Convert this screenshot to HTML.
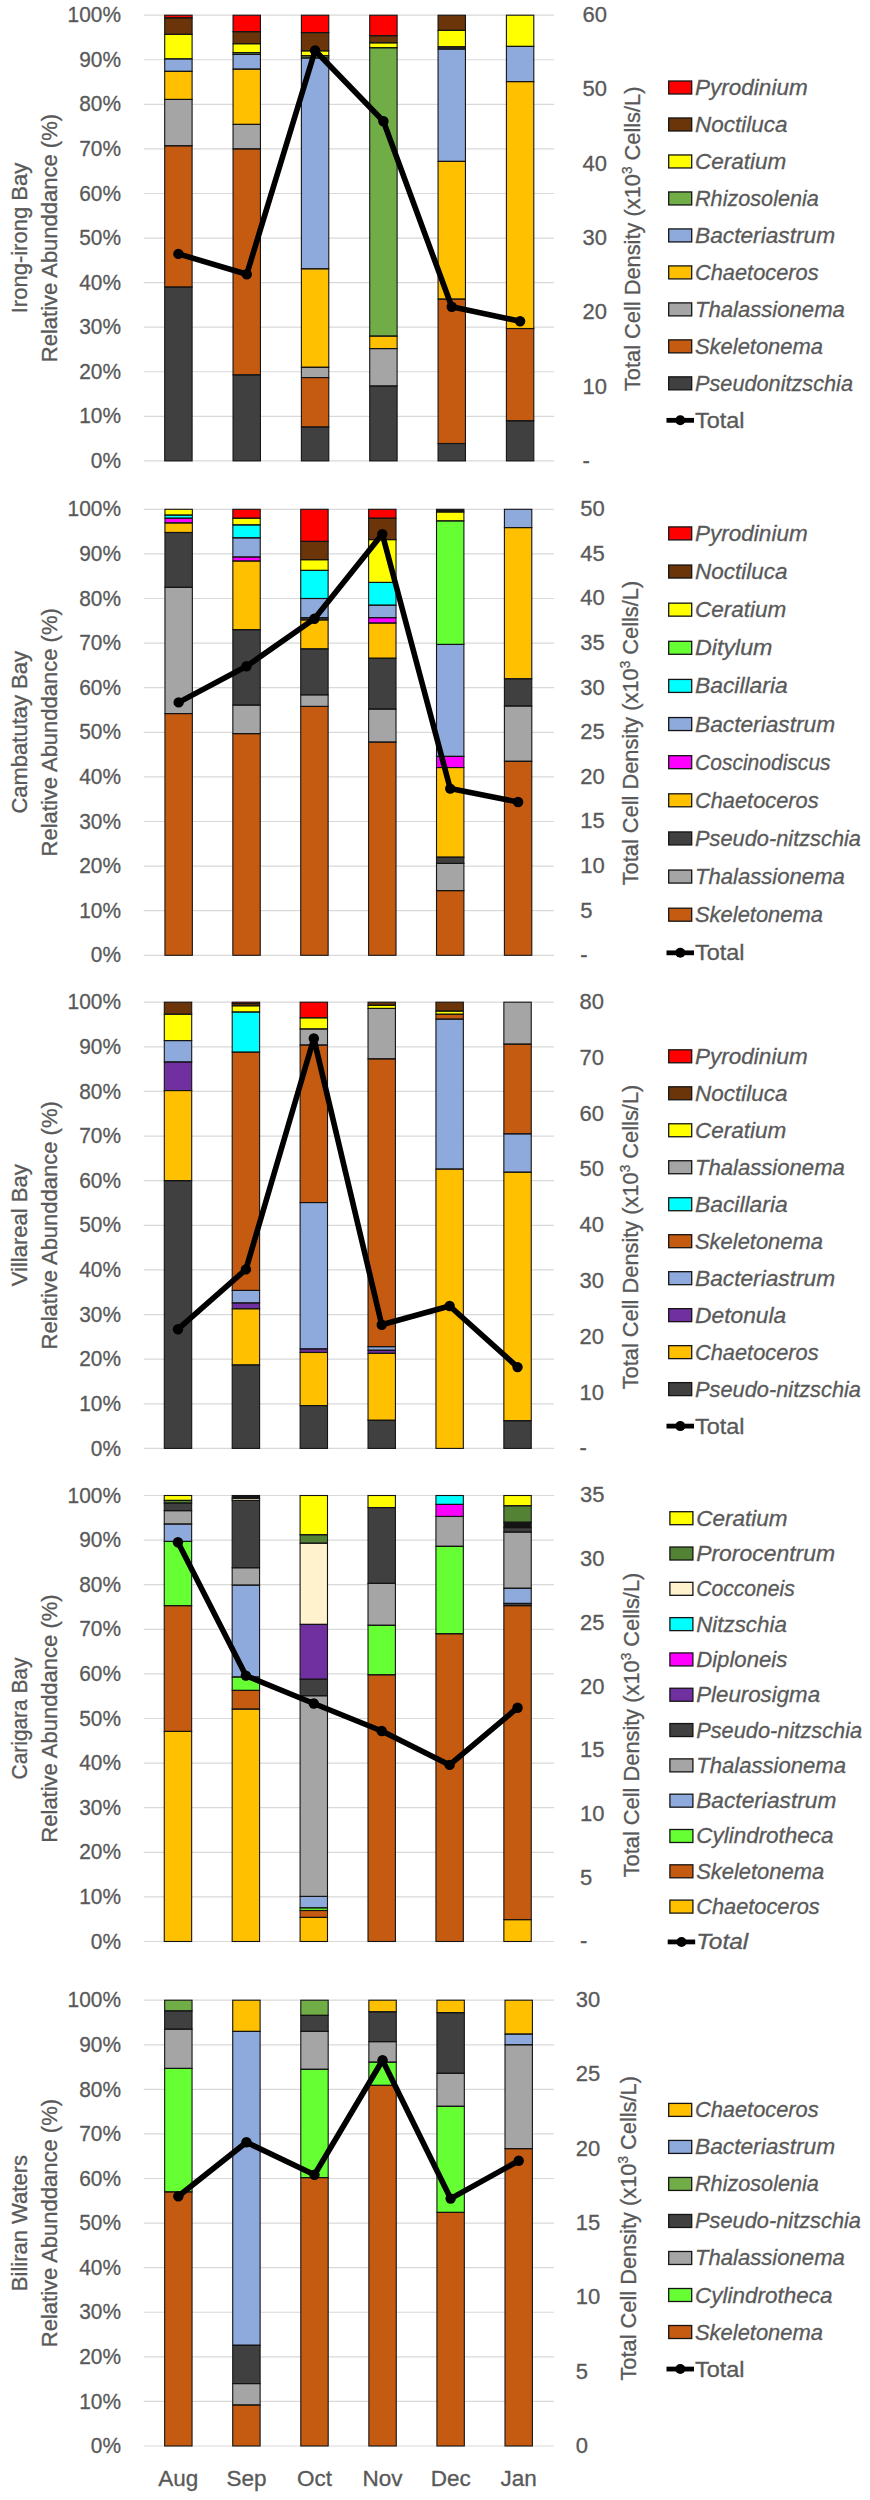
<!DOCTYPE html><html><head><meta charset="utf-8"><style>
html,body{margin:0;padding:0;background:#fff;width:870px;height:2500px;overflow:hidden}
svg{display:block}
text{font-family:"Liberation Sans", sans-serif;fill:#595959;stroke:#595959;stroke-width:0.3px}
.t{font-size:22px}.lg{font-size:22.5px;font-style:italic}.lgn{font-size:22.5px}
.ti{font-size:22px}.rt{font-size:22.5px}.xl{font-size:22.5px}
</style></head><body>
<svg width="870" height="2500" viewBox="0 0 870 2500">
<line x1="143.7" y1="15.2" x2="554" y2="15.2" stroke="#D9D9D9" stroke-width="1.2"/>
<line x1="143.7" y1="59.77" x2="554" y2="59.77" stroke="#D9D9D9" stroke-width="1.2"/>
<line x1="143.7" y1="104.34" x2="554" y2="104.34" stroke="#D9D9D9" stroke-width="1.2"/>
<line x1="143.7" y1="148.91" x2="554" y2="148.91" stroke="#D9D9D9" stroke-width="1.2"/>
<line x1="143.7" y1="193.48" x2="554" y2="193.48" stroke="#D9D9D9" stroke-width="1.2"/>
<line x1="143.7" y1="238.05" x2="554" y2="238.05" stroke="#D9D9D9" stroke-width="1.2"/>
<line x1="143.7" y1="282.62" x2="554" y2="282.62" stroke="#D9D9D9" stroke-width="1.2"/>
<line x1="143.7" y1="327.19" x2="554" y2="327.19" stroke="#D9D9D9" stroke-width="1.2"/>
<line x1="143.7" y1="371.76" x2="554" y2="371.76" stroke="#D9D9D9" stroke-width="1.2"/>
<line x1="143.7" y1="416.33" x2="554" y2="416.33" stroke="#D9D9D9" stroke-width="1.2"/>
<line x1="143.7" y1="460.9" x2="554" y2="460.9" stroke="#D9D9D9" stroke-width="1.2"/>
<text class="t" transform="translate(121,22.35) scale(0.95,1.0)" text-anchor="end">100%</text>
<text class="t" transform="translate(121,66.92) scale(0.95,1.0)" text-anchor="end">90%</text>
<text class="t" transform="translate(121,111.49) scale(0.95,1.0)" text-anchor="end">80%</text>
<text class="t" transform="translate(121,156.06) scale(0.95,1.0)" text-anchor="end">70%</text>
<text class="t" transform="translate(121,200.63) scale(0.95,1.0)" text-anchor="end">60%</text>
<text class="t" transform="translate(121,245.2) scale(0.95,1.0)" text-anchor="end">50%</text>
<text class="t" transform="translate(121,289.77) scale(0.95,1.0)" text-anchor="end">40%</text>
<text class="t" transform="translate(121,334.34) scale(0.95,1.0)" text-anchor="end">30%</text>
<text class="t" transform="translate(121,378.91) scale(0.95,1.0)" text-anchor="end">20%</text>
<text class="t" transform="translate(121,423.48) scale(0.95,1.0)" text-anchor="end">10%</text>
<text class="t" transform="translate(121,468.05) scale(0.95,1.0)" text-anchor="end">0%</text>
<text class="t" transform="translate(582.5,22.1) scale(1.0,1.0)">60</text>
<text class="t" transform="translate(582.5,96.38) scale(1.0,1.0)">50</text>
<text class="t" transform="translate(582.5,170.67) scale(1.0,1.0)">40</text>
<text class="t" transform="translate(582.5,244.95) scale(1.0,1.0)">30</text>
<text class="t" transform="translate(582.5,319.23) scale(1.0,1.0)">20</text>
<text class="t" transform="translate(582.5,393.52) scale(1.0,1.0)">10</text>
<text class="t" transform="translate(582.5,467.8) scale(1.0,1.0)">-</text>
<rect x="164.7" y="15.2" width="27.4" height="2.67" fill="#FF0000"/>
<rect x="164.7" y="17.87" width="27.4" height="16.49" fill="#6B3509"/>
<rect x="164.7" y="34.37" width="27.4" height="24.51" fill="#FFFF00"/>
<rect x="164.7" y="58.88" width="27.4" height="12.48" fill="#8EA9DB"/>
<rect x="164.7" y="71.36" width="27.4" height="28.08" fill="#FFC000"/>
<rect x="164.7" y="99.44" width="27.4" height="46.35" fill="#A5A5A5"/>
<rect x="164.7" y="145.79" width="27.4" height="141.29" fill="#C55A11"/>
<rect x="164.7" y="287.08" width="27.4" height="173.82" fill="#404040"/>
<rect x="164.7" y="15.2" width="27.4" height="2.67" fill="none" stroke="#141414" stroke-width="1.1"/>
<rect x="164.7" y="17.87" width="27.4" height="16.49" fill="none" stroke="#141414" stroke-width="1.1"/>
<rect x="164.7" y="34.37" width="27.4" height="24.51" fill="none" stroke="#141414" stroke-width="1.1"/>
<rect x="164.7" y="58.88" width="27.4" height="12.48" fill="none" stroke="#141414" stroke-width="1.1"/>
<rect x="164.7" y="71.36" width="27.4" height="28.08" fill="none" stroke="#141414" stroke-width="1.1"/>
<rect x="164.7" y="99.44" width="27.4" height="46.35" fill="none" stroke="#141414" stroke-width="1.1"/>
<rect x="164.7" y="145.79" width="27.4" height="141.29" fill="none" stroke="#141414" stroke-width="1.1"/>
<rect x="164.7" y="287.08" width="27.4" height="173.82" fill="none" stroke="#141414" stroke-width="1.1"/>
<rect x="233.04" y="15.2" width="27.4" height="16.49" fill="#FF0000"/>
<rect x="233.04" y="31.69" width="27.4" height="12.03" fill="#6B3509"/>
<rect x="233.04" y="43.72" width="27.4" height="8.91" fill="#FFFF00"/>
<rect x="233.04" y="52.64" width="27.4" height="1.78" fill="#70AD47"/>
<rect x="233.04" y="54.42" width="27.4" height="14.71" fill="#8EA9DB"/>
<rect x="233.04" y="69.13" width="27.4" height="55.27" fill="#FFC000"/>
<rect x="233.04" y="124.4" width="27.4" height="24.51" fill="#A5A5A5"/>
<rect x="233.04" y="148.91" width="27.4" height="225.97" fill="#C55A11"/>
<rect x="233.04" y="374.88" width="27.4" height="86.02" fill="#404040"/>
<rect x="233.04" y="15.2" width="27.4" height="16.49" fill="none" stroke="#141414" stroke-width="1.1"/>
<rect x="233.04" y="31.69" width="27.4" height="12.03" fill="none" stroke="#141414" stroke-width="1.1"/>
<rect x="233.04" y="43.72" width="27.4" height="8.91" fill="none" stroke="#141414" stroke-width="1.1"/>
<rect x="233.04" y="52.64" width="27.4" height="1.78" fill="none" stroke="#141414" stroke-width="1.1"/>
<rect x="233.04" y="54.42" width="27.4" height="14.71" fill="none" stroke="#141414" stroke-width="1.1"/>
<rect x="233.04" y="69.13" width="27.4" height="55.27" fill="none" stroke="#141414" stroke-width="1.1"/>
<rect x="233.04" y="124.4" width="27.4" height="24.51" fill="none" stroke="#141414" stroke-width="1.1"/>
<rect x="233.04" y="148.91" width="27.4" height="225.97" fill="none" stroke="#141414" stroke-width="1.1"/>
<rect x="233.04" y="374.88" width="27.4" height="86.02" fill="none" stroke="#141414" stroke-width="1.1"/>
<rect x="301.38" y="15.2" width="27.4" height="17.38" fill="#FF0000"/>
<rect x="301.38" y="32.58" width="27.4" height="18.27" fill="#6B3509"/>
<rect x="301.38" y="50.86" width="27.4" height="4.9" fill="#FFFF00"/>
<rect x="301.38" y="55.76" width="27.4" height="2.23" fill="#70AD47"/>
<rect x="301.38" y="57.99" width="27.4" height="210.82" fill="#8EA9DB"/>
<rect x="301.38" y="268.8" width="27.4" height="98.5" fill="#FFC000"/>
<rect x="301.38" y="367.3" width="27.4" height="10.25" fill="#A5A5A5"/>
<rect x="301.38" y="377.55" width="27.4" height="49.47" fill="#C55A11"/>
<rect x="301.38" y="427.03" width="27.4" height="33.87" fill="#404040"/>
<rect x="301.38" y="15.2" width="27.4" height="17.38" fill="none" stroke="#141414" stroke-width="1.1"/>
<rect x="301.38" y="32.58" width="27.4" height="18.27" fill="none" stroke="#141414" stroke-width="1.1"/>
<rect x="301.38" y="50.86" width="27.4" height="4.9" fill="none" stroke="#141414" stroke-width="1.1"/>
<rect x="301.38" y="55.76" width="27.4" height="2.23" fill="none" stroke="#141414" stroke-width="1.1"/>
<rect x="301.38" y="57.99" width="27.4" height="210.82" fill="none" stroke="#141414" stroke-width="1.1"/>
<rect x="301.38" y="268.8" width="27.4" height="98.5" fill="none" stroke="#141414" stroke-width="1.1"/>
<rect x="301.38" y="367.3" width="27.4" height="10.25" fill="none" stroke="#141414" stroke-width="1.1"/>
<rect x="301.38" y="377.55" width="27.4" height="49.47" fill="none" stroke="#141414" stroke-width="1.1"/>
<rect x="301.38" y="427.03" width="27.4" height="33.87" fill="none" stroke="#141414" stroke-width="1.1"/>
<rect x="369.72" y="15.2" width="27.4" height="20.5" fill="#FF0000"/>
<rect x="369.72" y="35.7" width="27.4" height="7.13" fill="#6B3509"/>
<rect x="369.72" y="42.83" width="27.4" height="4.9" fill="#FFFF00"/>
<rect x="369.72" y="47.74" width="27.4" height="288.37" fill="#70AD47"/>
<rect x="369.72" y="336.1" width="27.4" height="12.48" fill="#FFC000"/>
<rect x="369.72" y="348.58" width="27.4" height="37.44" fill="#A5A5A5"/>
<rect x="369.72" y="386.02" width="27.4" height="74.88" fill="#404040"/>
<rect x="369.72" y="15.2" width="27.4" height="20.5" fill="none" stroke="#141414" stroke-width="1.1"/>
<rect x="369.72" y="35.7" width="27.4" height="7.13" fill="none" stroke="#141414" stroke-width="1.1"/>
<rect x="369.72" y="42.83" width="27.4" height="4.9" fill="none" stroke="#141414" stroke-width="1.1"/>
<rect x="369.72" y="47.74" width="27.4" height="288.37" fill="none" stroke="#141414" stroke-width="1.1"/>
<rect x="369.72" y="336.1" width="27.4" height="12.48" fill="none" stroke="#141414" stroke-width="1.1"/>
<rect x="369.72" y="348.58" width="27.4" height="37.44" fill="none" stroke="#141414" stroke-width="1.1"/>
<rect x="369.72" y="386.02" width="27.4" height="74.88" fill="none" stroke="#141414" stroke-width="1.1"/>
<rect x="438.06" y="15.2" width="27.4" height="15.15" fill="#6B3509"/>
<rect x="438.06" y="30.35" width="27.4" height="16.49" fill="#FFFF00"/>
<rect x="438.06" y="46.84" width="27.4" height="2.23" fill="#404040"/>
<rect x="438.06" y="49.07" width="27.4" height="112.32" fill="#8EA9DB"/>
<rect x="438.06" y="161.39" width="27.4" height="137.72" fill="#FFC000"/>
<rect x="438.06" y="299.11" width="27.4" height="144.41" fill="#C55A11"/>
<rect x="438.06" y="443.52" width="27.4" height="17.38" fill="#404040"/>
<rect x="438.06" y="15.2" width="27.4" height="15.15" fill="none" stroke="#141414" stroke-width="1.1"/>
<rect x="438.06" y="30.35" width="27.4" height="16.49" fill="none" stroke="#141414" stroke-width="1.1"/>
<rect x="438.06" y="46.84" width="27.4" height="2.23" fill="none" stroke="#141414" stroke-width="1.1"/>
<rect x="438.06" y="49.07" width="27.4" height="112.32" fill="none" stroke="#141414" stroke-width="1.1"/>
<rect x="438.06" y="161.39" width="27.4" height="137.72" fill="none" stroke="#141414" stroke-width="1.1"/>
<rect x="438.06" y="299.11" width="27.4" height="144.41" fill="none" stroke="#141414" stroke-width="1.1"/>
<rect x="438.06" y="443.52" width="27.4" height="17.38" fill="none" stroke="#141414" stroke-width="1.1"/>
<rect x="506.4" y="15.2" width="27.4" height="31.2" fill="#FFFF00"/>
<rect x="506.4" y="46.4" width="27.4" height="35.21" fill="#8EA9DB"/>
<rect x="506.4" y="81.61" width="27.4" height="246.92" fill="#FFC000"/>
<rect x="506.4" y="328.53" width="27.4" height="92.26" fill="#C55A11"/>
<rect x="506.4" y="420.79" width="27.4" height="40.11" fill="#404040"/>
<rect x="506.4" y="15.2" width="27.4" height="31.2" fill="none" stroke="#141414" stroke-width="1.1"/>
<rect x="506.4" y="46.4" width="27.4" height="35.21" fill="none" stroke="#141414" stroke-width="1.1"/>
<rect x="506.4" y="81.61" width="27.4" height="246.92" fill="none" stroke="#141414" stroke-width="1.1"/>
<rect x="506.4" y="328.53" width="27.4" height="92.26" fill="none" stroke="#141414" stroke-width="1.1"/>
<rect x="506.4" y="420.79" width="27.4" height="40.11" fill="none" stroke="#141414" stroke-width="1.1"/>
<polyline points="178.4,253.9 246.74,274.2 315.08,50.5 383.42,121.3 451.76,306.8 520.1,321.3" fill="none" stroke="#000" stroke-width="5.6" stroke-linejoin="round"/>
<circle cx="178.4" cy="253.9" r="5.2" fill="#000"/>
<circle cx="246.74" cy="274.2" r="5.2" fill="#000"/>
<circle cx="315.08" cy="50.5" r="5.2" fill="#000"/>
<circle cx="383.42" cy="121.3" r="5.2" fill="#000"/>
<circle cx="451.76" cy="306.8" r="5.2" fill="#000"/>
<circle cx="520.1" cy="321.3" r="5.2" fill="#000"/>
<text class="ti" id="tn0" transform="translate(26.5,238.05) rotate(-90)" text-anchor="middle">Irong-irong Bay</text>
<text class="ti" id="tr0" transform="translate(57,238.05) rotate(-90)" text-anchor="middle">Relative Abunddance (%)</text>
<text class="rt" id="rt0" transform="translate(639.8,238.8) rotate(-90) scale(0.97,1)" text-anchor="middle">Total Cell Density (x10<tspan font-size="14" dy="-8">3</tspan><tspan dy="8"> Cells/L)</tspan></text>
<rect x="668.7" y="81" width="23" height="13" fill="#FF0000" stroke="#141414" stroke-width="1.3"/>
<text class="lg" x="695" y="95" textLength="112.7" lengthAdjust="spacingAndGlyphs">Pyrodinium</text>
<rect x="668.7" y="117.98" width="23" height="13" fill="#6B3509" stroke="#141414" stroke-width="1.3"/>
<text class="lg" x="695" y="131.98" textLength="92.47" lengthAdjust="spacingAndGlyphs">Noctiluca</text>
<rect x="668.7" y="154.96" width="23" height="13" fill="#FFFF00" stroke="#141414" stroke-width="1.3"/>
<text class="lg" x="695" y="168.96" textLength="91.36" lengthAdjust="spacingAndGlyphs">Ceratium</text>
<rect x="668.7" y="191.94" width="23" height="13" fill="#70AD47" stroke="#141414" stroke-width="1.3"/>
<text class="lg" x="695" y="205.94" textLength="123.82" lengthAdjust="spacingAndGlyphs">Rhizosolenia</text>
<rect x="668.7" y="228.92" width="23" height="13" fill="#8EA9DB" stroke="#141414" stroke-width="1.3"/>
<text class="lg" x="695" y="242.92" textLength="140.17" lengthAdjust="spacingAndGlyphs">Bacteriastrum</text>
<rect x="668.7" y="265.9" width="23" height="13" fill="#FFC000" stroke="#141414" stroke-width="1.3"/>
<text class="lg" x="695" y="279.9" textLength="123.56" lengthAdjust="spacingAndGlyphs">Chaetoceros</text>
<rect x="668.7" y="302.88" width="23" height="13" fill="#A5A5A5" stroke="#141414" stroke-width="1.3"/>
<text class="lg" x="695" y="316.88" textLength="149.83" lengthAdjust="spacingAndGlyphs">Thalassionema</text>
<rect x="668.7" y="339.86" width="23" height="13" fill="#C55A11" stroke="#141414" stroke-width="1.3"/>
<text class="lg" x="695" y="353.86" textLength="127.95" lengthAdjust="spacingAndGlyphs">Skeletonema</text>
<rect x="668.7" y="376.84" width="23" height="13" fill="#404040" stroke="#141414" stroke-width="1.3"/>
<text class="lg" x="695" y="390.84" textLength="158" lengthAdjust="spacingAndGlyphs">Pseudonitzschia</text>
<line x1="666.5" y1="420.32" x2="694" y2="420.32" stroke="#000" stroke-width="4.8"/>
<circle cx="680.3" cy="420.32" r="5" fill="#000"/>
<text class="lgn" x="695" y="427.82" textLength="49.52" lengthAdjust="spacingAndGlyphs">Total</text>
<line x1="143.7" y1="509.3" x2="554" y2="509.3" stroke="#D9D9D9" stroke-width="1.2"/>
<line x1="143.7" y1="553.9" x2="554" y2="553.9" stroke="#D9D9D9" stroke-width="1.2"/>
<line x1="143.7" y1="598.5" x2="554" y2="598.5" stroke="#D9D9D9" stroke-width="1.2"/>
<line x1="143.7" y1="643.1" x2="554" y2="643.1" stroke="#D9D9D9" stroke-width="1.2"/>
<line x1="143.7" y1="687.7" x2="554" y2="687.7" stroke="#D9D9D9" stroke-width="1.2"/>
<line x1="143.7" y1="732.3" x2="554" y2="732.3" stroke="#D9D9D9" stroke-width="1.2"/>
<line x1="143.7" y1="776.9" x2="554" y2="776.9" stroke="#D9D9D9" stroke-width="1.2"/>
<line x1="143.7" y1="821.5" x2="554" y2="821.5" stroke="#D9D9D9" stroke-width="1.2"/>
<line x1="143.7" y1="866.1" x2="554" y2="866.1" stroke="#D9D9D9" stroke-width="1.2"/>
<line x1="143.7" y1="910.7" x2="554" y2="910.7" stroke="#D9D9D9" stroke-width="1.2"/>
<line x1="143.7" y1="955.3" x2="554" y2="955.3" stroke="#D9D9D9" stroke-width="1.2"/>
<text class="t" transform="translate(121,516.45) scale(0.95,1.0)" text-anchor="end">100%</text>
<text class="t" transform="translate(121,561.05) scale(0.95,1.0)" text-anchor="end">90%</text>
<text class="t" transform="translate(121,605.65) scale(0.95,1.0)" text-anchor="end">80%</text>
<text class="t" transform="translate(121,650.25) scale(0.95,1.0)" text-anchor="end">70%</text>
<text class="t" transform="translate(121,694.85) scale(0.95,1.0)" text-anchor="end">60%</text>
<text class="t" transform="translate(121,739.45) scale(0.95,1.0)" text-anchor="end">50%</text>
<text class="t" transform="translate(121,784.05) scale(0.95,1.0)" text-anchor="end">40%</text>
<text class="t" transform="translate(121,828.65) scale(0.95,1.0)" text-anchor="end">30%</text>
<text class="t" transform="translate(121,873.25) scale(0.95,1.0)" text-anchor="end">20%</text>
<text class="t" transform="translate(121,917.85) scale(0.95,1.0)" text-anchor="end">10%</text>
<text class="t" transform="translate(121,962.45) scale(0.95,1.0)" text-anchor="end">0%</text>
<text class="t" transform="translate(580.3,516.2) scale(1.0,1.0)">50</text>
<text class="t" transform="translate(580.3,560.8) scale(1.0,1.0)">45</text>
<text class="t" transform="translate(580.3,605.4) scale(1.0,1.0)">40</text>
<text class="t" transform="translate(580.3,650) scale(1.0,1.0)">35</text>
<text class="t" transform="translate(580.3,694.6) scale(1.0,1.0)">30</text>
<text class="t" transform="translate(580.3,739.2) scale(1.0,1.0)">25</text>
<text class="t" transform="translate(580.3,783.8) scale(1.0,1.0)">20</text>
<text class="t" transform="translate(580.3,828.4) scale(1.0,1.0)">15</text>
<text class="t" transform="translate(580.3,873) scale(1.0,1.0)">10</text>
<text class="t" transform="translate(580.3,917.6) scale(1.0,1.0)">5</text>
<text class="t" transform="translate(580.3,962.2) scale(1.0,1.0)">-</text>
<rect x="164.95" y="509.3" width="27.4" height="5.8" fill="#FFFF00"/>
<rect x="164.95" y="515.1" width="27.4" height="3.12" fill="#00FFFF"/>
<rect x="164.95" y="518.22" width="27.4" height="4.68" fill="#FF00FF"/>
<rect x="164.95" y="522.9" width="27.4" height="9.59" fill="#FFC000"/>
<rect x="164.95" y="532.49" width="27.4" height="54.86" fill="#404040"/>
<rect x="164.95" y="587.35" width="27.4" height="126.22" fill="#A5A5A5"/>
<rect x="164.95" y="713.57" width="27.4" height="241.73" fill="#C55A11"/>
<rect x="164.95" y="509.3" width="27.4" height="5.8" fill="none" stroke="#141414" stroke-width="1.1"/>
<rect x="164.95" y="515.1" width="27.4" height="3.12" fill="none" stroke="#141414" stroke-width="1.1"/>
<rect x="164.95" y="518.22" width="27.4" height="4.68" fill="none" stroke="#141414" stroke-width="1.1"/>
<rect x="164.95" y="522.9" width="27.4" height="9.59" fill="none" stroke="#141414" stroke-width="1.1"/>
<rect x="164.95" y="532.49" width="27.4" height="54.86" fill="none" stroke="#141414" stroke-width="1.1"/>
<rect x="164.95" y="587.35" width="27.4" height="126.22" fill="none" stroke="#141414" stroke-width="1.1"/>
<rect x="164.95" y="713.57" width="27.4" height="241.73" fill="none" stroke="#141414" stroke-width="1.1"/>
<rect x="232.84" y="509.3" width="27.4" height="8.92" fill="#FF0000"/>
<rect x="232.84" y="518.22" width="27.4" height="6.69" fill="#FFFF00"/>
<rect x="232.84" y="524.91" width="27.4" height="12.93" fill="#00FFFF"/>
<rect x="232.84" y="537.84" width="27.4" height="19.18" fill="#8EA9DB"/>
<rect x="232.84" y="557.02" width="27.4" height="4.01" fill="#FF00FF"/>
<rect x="232.84" y="561.04" width="27.4" height="68.68" fill="#FFC000"/>
<rect x="232.84" y="629.72" width="27.4" height="75.37" fill="#404040"/>
<rect x="232.84" y="705.09" width="27.4" height="28.54" fill="#A5A5A5"/>
<rect x="232.84" y="733.64" width="27.4" height="221.66" fill="#C55A11"/>
<rect x="232.84" y="509.3" width="27.4" height="8.92" fill="none" stroke="#141414" stroke-width="1.1"/>
<rect x="232.84" y="518.22" width="27.4" height="6.69" fill="none" stroke="#141414" stroke-width="1.1"/>
<rect x="232.84" y="524.91" width="27.4" height="12.93" fill="none" stroke="#141414" stroke-width="1.1"/>
<rect x="232.84" y="537.84" width="27.4" height="19.18" fill="none" stroke="#141414" stroke-width="1.1"/>
<rect x="232.84" y="557.02" width="27.4" height="4.01" fill="none" stroke="#141414" stroke-width="1.1"/>
<rect x="232.84" y="561.04" width="27.4" height="68.68" fill="none" stroke="#141414" stroke-width="1.1"/>
<rect x="232.84" y="629.72" width="27.4" height="75.37" fill="none" stroke="#141414" stroke-width="1.1"/>
<rect x="232.84" y="705.09" width="27.4" height="28.54" fill="none" stroke="#141414" stroke-width="1.1"/>
<rect x="232.84" y="733.64" width="27.4" height="221.66" fill="none" stroke="#141414" stroke-width="1.1"/>
<rect x="300.73" y="509.3" width="27.4" height="32.11" fill="#FF0000"/>
<rect x="300.73" y="541.41" width="27.4" height="18.29" fill="#6B3509"/>
<rect x="300.73" y="559.7" width="27.4" height="10.7" fill="#FFFF00"/>
<rect x="300.73" y="570.4" width="27.4" height="28.1" fill="#00FFFF"/>
<rect x="300.73" y="598.5" width="27.4" height="19.18" fill="#8EA9DB"/>
<rect x="300.73" y="617.68" width="27.4" height="2.23" fill="#404040"/>
<rect x="300.73" y="619.91" width="27.4" height="28.99" fill="#FFC000"/>
<rect x="300.73" y="648.9" width="27.4" height="45.94" fill="#404040"/>
<rect x="300.73" y="694.84" width="27.4" height="11.6" fill="#A5A5A5"/>
<rect x="300.73" y="706.43" width="27.4" height="248.87" fill="#C55A11"/>
<rect x="300.73" y="509.3" width="27.4" height="32.11" fill="none" stroke="#141414" stroke-width="1.1"/>
<rect x="300.73" y="541.41" width="27.4" height="18.29" fill="none" stroke="#141414" stroke-width="1.1"/>
<rect x="300.73" y="559.7" width="27.4" height="10.7" fill="none" stroke="#141414" stroke-width="1.1"/>
<rect x="300.73" y="570.4" width="27.4" height="28.1" fill="none" stroke="#141414" stroke-width="1.1"/>
<rect x="300.73" y="598.5" width="27.4" height="19.18" fill="none" stroke="#141414" stroke-width="1.1"/>
<rect x="300.73" y="617.68" width="27.4" height="2.23" fill="none" stroke="#141414" stroke-width="1.1"/>
<rect x="300.73" y="619.91" width="27.4" height="28.99" fill="none" stroke="#141414" stroke-width="1.1"/>
<rect x="300.73" y="648.9" width="27.4" height="45.94" fill="none" stroke="#141414" stroke-width="1.1"/>
<rect x="300.73" y="694.84" width="27.4" height="11.6" fill="none" stroke="#141414" stroke-width="1.1"/>
<rect x="300.73" y="706.43" width="27.4" height="248.87" fill="none" stroke="#141414" stroke-width="1.1"/>
<rect x="368.62" y="509.3" width="27.4" height="8.92" fill="#FF0000"/>
<rect x="368.62" y="518.22" width="27.4" height="21.41" fill="#6B3509"/>
<rect x="368.62" y="539.63" width="27.4" height="42.82" fill="#FFFF00"/>
<rect x="368.62" y="582.44" width="27.4" height="22.75" fill="#00FFFF"/>
<rect x="368.62" y="605.19" width="27.4" height="12.49" fill="#8EA9DB"/>
<rect x="368.62" y="617.68" width="27.4" height="5.35" fill="#FF00FF"/>
<rect x="368.62" y="623.03" width="27.4" height="35.23" fill="#FFC000"/>
<rect x="368.62" y="658.26" width="27.4" height="50.84" fill="#404040"/>
<rect x="368.62" y="709.11" width="27.4" height="33" fill="#A5A5A5"/>
<rect x="368.62" y="742.11" width="27.4" height="213.19" fill="#C55A11"/>
<rect x="368.62" y="509.3" width="27.4" height="8.92" fill="none" stroke="#141414" stroke-width="1.1"/>
<rect x="368.62" y="518.22" width="27.4" height="21.41" fill="none" stroke="#141414" stroke-width="1.1"/>
<rect x="368.62" y="539.63" width="27.4" height="42.82" fill="none" stroke="#141414" stroke-width="1.1"/>
<rect x="368.62" y="582.44" width="27.4" height="22.75" fill="none" stroke="#141414" stroke-width="1.1"/>
<rect x="368.62" y="605.19" width="27.4" height="12.49" fill="none" stroke="#141414" stroke-width="1.1"/>
<rect x="368.62" y="617.68" width="27.4" height="5.35" fill="none" stroke="#141414" stroke-width="1.1"/>
<rect x="368.62" y="623.03" width="27.4" height="35.23" fill="none" stroke="#141414" stroke-width="1.1"/>
<rect x="368.62" y="658.26" width="27.4" height="50.84" fill="none" stroke="#141414" stroke-width="1.1"/>
<rect x="368.62" y="709.11" width="27.4" height="33" fill="none" stroke="#141414" stroke-width="1.1"/>
<rect x="368.62" y="742.11" width="27.4" height="213.19" fill="none" stroke="#141414" stroke-width="1.1"/>
<rect x="436.51" y="509.3" width="27.4" height="2.68" fill="#141414"/>
<rect x="436.51" y="511.98" width="27.4" height="8.92" fill="#FFFF00"/>
<rect x="436.51" y="520.9" width="27.4" height="123.54" fill="#66FF33"/>
<rect x="436.51" y="644.44" width="27.4" height="111.95" fill="#8EA9DB"/>
<rect x="436.51" y="756.38" width="27.4" height="11.15" fill="#FF00FF"/>
<rect x="436.51" y="767.53" width="27.4" height="89.65" fill="#FFC000"/>
<rect x="436.51" y="857.18" width="27.4" height="6.24" fill="#404040"/>
<rect x="436.51" y="863.42" width="27.4" height="27.21" fill="#A5A5A5"/>
<rect x="436.51" y="890.63" width="27.4" height="64.67" fill="#C55A11"/>
<rect x="436.51" y="509.3" width="27.4" height="2.68" fill="none" stroke="#141414" stroke-width="1.1"/>
<rect x="436.51" y="511.98" width="27.4" height="8.92" fill="none" stroke="#141414" stroke-width="1.1"/>
<rect x="436.51" y="520.9" width="27.4" height="123.54" fill="none" stroke="#141414" stroke-width="1.1"/>
<rect x="436.51" y="644.44" width="27.4" height="111.95" fill="none" stroke="#141414" stroke-width="1.1"/>
<rect x="436.51" y="756.38" width="27.4" height="11.15" fill="none" stroke="#141414" stroke-width="1.1"/>
<rect x="436.51" y="767.53" width="27.4" height="89.65" fill="none" stroke="#141414" stroke-width="1.1"/>
<rect x="436.51" y="857.18" width="27.4" height="6.24" fill="none" stroke="#141414" stroke-width="1.1"/>
<rect x="436.51" y="863.42" width="27.4" height="27.21" fill="none" stroke="#141414" stroke-width="1.1"/>
<rect x="436.51" y="890.63" width="27.4" height="64.67" fill="none" stroke="#141414" stroke-width="1.1"/>
<rect x="504.4" y="509.3" width="27.4" height="18.29" fill="#8EA9DB"/>
<rect x="504.4" y="527.59" width="27.4" height="151.19" fill="#FFC000"/>
<rect x="504.4" y="678.78" width="27.4" height="27.21" fill="#404040"/>
<rect x="504.4" y="705.99" width="27.4" height="55.3" fill="#A5A5A5"/>
<rect x="504.4" y="761.29" width="27.4" height="194.01" fill="#C55A11"/>
<rect x="504.4" y="509.3" width="27.4" height="18.29" fill="none" stroke="#141414" stroke-width="1.1"/>
<rect x="504.4" y="527.59" width="27.4" height="151.19" fill="none" stroke="#141414" stroke-width="1.1"/>
<rect x="504.4" y="678.78" width="27.4" height="27.21" fill="none" stroke="#141414" stroke-width="1.1"/>
<rect x="504.4" y="705.99" width="27.4" height="55.3" fill="none" stroke="#141414" stroke-width="1.1"/>
<rect x="504.4" y="761.29" width="27.4" height="194.01" fill="none" stroke="#141414" stroke-width="1.1"/>
<polyline points="178.65,702.4 246.54,666.2 314.43,618.7 382.32,534.1 450.21,788.6 518.1,802" fill="none" stroke="#000" stroke-width="5.6" stroke-linejoin="round"/>
<circle cx="178.65" cy="702.4" r="5.2" fill="#000"/>
<circle cx="246.54" cy="666.2" r="5.2" fill="#000"/>
<circle cx="314.43" cy="618.7" r="5.2" fill="#000"/>
<circle cx="382.32" cy="534.1" r="5.2" fill="#000"/>
<circle cx="450.21" cy="788.6" r="5.2" fill="#000"/>
<circle cx="518.1" cy="802" r="5.2" fill="#000"/>
<text class="ti" id="tn1" transform="translate(26.5,732.3) rotate(-90)" text-anchor="middle">Cambatutay Bay</text>
<text class="ti" id="tr1" transform="translate(57,732.3) rotate(-90)" text-anchor="middle">Relative Abunddance (%)</text>
<text class="rt" id="rt1" transform="translate(637.8,733.05) rotate(-90) scale(0.97,1)" text-anchor="middle">Total Cell Density (x10<tspan font-size="14" dy="-8">3</tspan><tspan dy="8"> Cells/L)</tspan></text>
<rect x="668.7" y="526.9" width="23" height="13" fill="#FF0000" stroke="#141414" stroke-width="1.3"/>
<text class="lg" x="695" y="540.9" textLength="112.7" lengthAdjust="spacingAndGlyphs">Pyrodinium</text>
<rect x="668.7" y="565.03" width="23" height="13" fill="#6B3509" stroke="#141414" stroke-width="1.3"/>
<text class="lg" x="695" y="579.03" textLength="92.47" lengthAdjust="spacingAndGlyphs">Noctiluca</text>
<rect x="668.7" y="603.16" width="23" height="13" fill="#FFFF00" stroke="#141414" stroke-width="1.3"/>
<text class="lg" x="695" y="617.16" textLength="91.36" lengthAdjust="spacingAndGlyphs">Ceratium</text>
<rect x="668.7" y="641.29" width="23" height="13" fill="#66FF33" stroke="#141414" stroke-width="1.3"/>
<text class="lg" x="695" y="655.29" textLength="77.43" lengthAdjust="spacingAndGlyphs">Ditylum</text>
<rect x="668.7" y="679.42" width="23" height="13" fill="#00FFFF" stroke="#141414" stroke-width="1.3"/>
<text class="lg" x="695" y="693.42" textLength="92.7" lengthAdjust="spacingAndGlyphs">Bacillaria</text>
<rect x="668.7" y="717.55" width="23" height="13" fill="#8EA9DB" stroke="#141414" stroke-width="1.3"/>
<text class="lg" x="695" y="731.55" textLength="140.17" lengthAdjust="spacingAndGlyphs">Bacteriastrum</text>
<rect x="668.7" y="755.68" width="23" height="13" fill="#FF00FF" stroke="#141414" stroke-width="1.3"/>
<text class="lg" x="695" y="769.68" textLength="135.61" lengthAdjust="spacingAndGlyphs">Coscinodiscus</text>
<rect x="668.7" y="793.81" width="23" height="13" fill="#FFC000" stroke="#141414" stroke-width="1.3"/>
<text class="lg" x="695" y="807.81" textLength="123.56" lengthAdjust="spacingAndGlyphs">Chaetoceros</text>
<rect x="668.7" y="831.94" width="23" height="13" fill="#404040" stroke="#141414" stroke-width="1.3"/>
<text class="lg" x="695" y="845.94" textLength="165.99" lengthAdjust="spacingAndGlyphs">Pseudo-nitzschia</text>
<rect x="668.7" y="870.07" width="23" height="13" fill="#A5A5A5" stroke="#141414" stroke-width="1.3"/>
<text class="lg" x="695" y="884.07" textLength="149.83" lengthAdjust="spacingAndGlyphs">Thalassionema</text>
<rect x="668.7" y="908.2" width="23" height="13" fill="#C55A11" stroke="#141414" stroke-width="1.3"/>
<text class="lg" x="695" y="922.2" textLength="127.95" lengthAdjust="spacingAndGlyphs">Skeletonema</text>
<line x1="666.5" y1="952.83" x2="694" y2="952.83" stroke="#000" stroke-width="4.8"/>
<circle cx="680.3" cy="952.83" r="5" fill="#000"/>
<text class="lgn" x="695" y="960.33" textLength="49.52" lengthAdjust="spacingAndGlyphs">Total</text>
<line x1="143.7" y1="1002.2" x2="554" y2="1002.2" stroke="#D9D9D9" stroke-width="1.2"/>
<line x1="143.7" y1="1046.82" x2="554" y2="1046.82" stroke="#D9D9D9" stroke-width="1.2"/>
<line x1="143.7" y1="1091.44" x2="554" y2="1091.44" stroke="#D9D9D9" stroke-width="1.2"/>
<line x1="143.7" y1="1136.06" x2="554" y2="1136.06" stroke="#D9D9D9" stroke-width="1.2"/>
<line x1="143.7" y1="1180.68" x2="554" y2="1180.68" stroke="#D9D9D9" stroke-width="1.2"/>
<line x1="143.7" y1="1225.3" x2="554" y2="1225.3" stroke="#D9D9D9" stroke-width="1.2"/>
<line x1="143.7" y1="1269.92" x2="554" y2="1269.92" stroke="#D9D9D9" stroke-width="1.2"/>
<line x1="143.7" y1="1314.54" x2="554" y2="1314.54" stroke="#D9D9D9" stroke-width="1.2"/>
<line x1="143.7" y1="1359.16" x2="554" y2="1359.16" stroke="#D9D9D9" stroke-width="1.2"/>
<line x1="143.7" y1="1403.78" x2="554" y2="1403.78" stroke="#D9D9D9" stroke-width="1.2"/>
<line x1="143.7" y1="1448.4" x2="554" y2="1448.4" stroke="#D9D9D9" stroke-width="1.2"/>
<text class="t" transform="translate(121,1009.35) scale(0.95,1.0)" text-anchor="end">100%</text>
<text class="t" transform="translate(121,1053.97) scale(0.95,1.0)" text-anchor="end">90%</text>
<text class="t" transform="translate(121,1098.59) scale(0.95,1.0)" text-anchor="end">80%</text>
<text class="t" transform="translate(121,1143.21) scale(0.95,1.0)" text-anchor="end">70%</text>
<text class="t" transform="translate(121,1187.83) scale(0.95,1.0)" text-anchor="end">60%</text>
<text class="t" transform="translate(121,1232.45) scale(0.95,1.0)" text-anchor="end">50%</text>
<text class="t" transform="translate(121,1277.07) scale(0.95,1.0)" text-anchor="end">40%</text>
<text class="t" transform="translate(121,1321.69) scale(0.95,1.0)" text-anchor="end">30%</text>
<text class="t" transform="translate(121,1366.31) scale(0.95,1.0)" text-anchor="end">20%</text>
<text class="t" transform="translate(121,1410.93) scale(0.95,1.0)" text-anchor="end">10%</text>
<text class="t" transform="translate(121,1455.55) scale(0.95,1.0)" text-anchor="end">0%</text>
<text class="t" transform="translate(579.6,1009.1) scale(1.0,1.0)">80</text>
<text class="t" transform="translate(579.6,1064.88) scale(1.0,1.0)">70</text>
<text class="t" transform="translate(579.6,1120.65) scale(1.0,1.0)">60</text>
<text class="t" transform="translate(579.6,1176.43) scale(1.0,1.0)">50</text>
<text class="t" transform="translate(579.6,1232.2) scale(1.0,1.0)">40</text>
<text class="t" transform="translate(579.6,1287.98) scale(1.0,1.0)">30</text>
<text class="t" transform="translate(579.6,1343.75) scale(1.0,1.0)">20</text>
<text class="t" transform="translate(579.6,1399.53) scale(1.0,1.0)">10</text>
<text class="t" transform="translate(579.6,1455.3) scale(1.0,1.0)">-</text>
<rect x="164.3" y="1002.2" width="27.4" height="12.05" fill="#6B3509"/>
<rect x="164.3" y="1014.25" width="27.4" height="26.33" fill="#FFFF00"/>
<rect x="164.3" y="1040.57" width="27.4" height="21.42" fill="#8EA9DB"/>
<rect x="164.3" y="1061.99" width="27.4" height="28.56" fill="#7030A0"/>
<rect x="164.3" y="1090.55" width="27.4" height="90.13" fill="#FFC000"/>
<rect x="164.3" y="1180.68" width="27.4" height="267.72" fill="#404040"/>
<rect x="164.3" y="1002.2" width="27.4" height="12.05" fill="none" stroke="#141414" stroke-width="1.1"/>
<rect x="164.3" y="1014.25" width="27.4" height="26.33" fill="none" stroke="#141414" stroke-width="1.1"/>
<rect x="164.3" y="1040.57" width="27.4" height="21.42" fill="none" stroke="#141414" stroke-width="1.1"/>
<rect x="164.3" y="1061.99" width="27.4" height="28.56" fill="none" stroke="#141414" stroke-width="1.1"/>
<rect x="164.3" y="1090.55" width="27.4" height="90.13" fill="none" stroke="#141414" stroke-width="1.1"/>
<rect x="164.3" y="1180.68" width="27.4" height="267.72" fill="none" stroke="#141414" stroke-width="1.1"/>
<rect x="232.21" y="1002.2" width="27.4" height="1.34" fill="#FF0000"/>
<rect x="232.21" y="1003.54" width="27.4" height="2.23" fill="#6B3509"/>
<rect x="232.21" y="1005.77" width="27.4" height="6.25" fill="#FFFF00"/>
<rect x="232.21" y="1012.02" width="27.4" height="40.16" fill="#00FFFF"/>
<rect x="232.21" y="1052.17" width="27.4" height="238.27" fill="#C55A11"/>
<rect x="232.21" y="1290.45" width="27.4" height="12.49" fill="#8EA9DB"/>
<rect x="232.21" y="1302.94" width="27.4" height="5.8" fill="#7030A0"/>
<rect x="232.21" y="1308.74" width="27.4" height="56.22" fill="#FFC000"/>
<rect x="232.21" y="1364.96" width="27.4" height="83.44" fill="#404040"/>
<rect x="232.21" y="1002.2" width="27.4" height="1.34" fill="none" stroke="#141414" stroke-width="1.1"/>
<rect x="232.21" y="1003.54" width="27.4" height="2.23" fill="none" stroke="#141414" stroke-width="1.1"/>
<rect x="232.21" y="1005.77" width="27.4" height="6.25" fill="none" stroke="#141414" stroke-width="1.1"/>
<rect x="232.21" y="1012.02" width="27.4" height="40.16" fill="none" stroke="#141414" stroke-width="1.1"/>
<rect x="232.21" y="1052.17" width="27.4" height="238.27" fill="none" stroke="#141414" stroke-width="1.1"/>
<rect x="232.21" y="1290.45" width="27.4" height="12.49" fill="none" stroke="#141414" stroke-width="1.1"/>
<rect x="232.21" y="1302.94" width="27.4" height="5.8" fill="none" stroke="#141414" stroke-width="1.1"/>
<rect x="232.21" y="1308.74" width="27.4" height="56.22" fill="none" stroke="#141414" stroke-width="1.1"/>
<rect x="232.21" y="1364.96" width="27.4" height="83.44" fill="none" stroke="#141414" stroke-width="1.1"/>
<rect x="300.12" y="1002.2" width="27.4" height="15.62" fill="#FF0000"/>
<rect x="300.12" y="1017.82" width="27.4" height="11.15" fill="#FFFF00"/>
<rect x="300.12" y="1028.97" width="27.4" height="16.06" fill="#A5A5A5"/>
<rect x="300.12" y="1045.04" width="27.4" height="157.51" fill="#C55A11"/>
<rect x="300.12" y="1202.54" width="27.4" height="146.35" fill="#8EA9DB"/>
<rect x="300.12" y="1348.9" width="27.4" height="3.57" fill="#7030A0"/>
<rect x="300.12" y="1352.47" width="27.4" height="53.1" fill="#FFC000"/>
<rect x="300.12" y="1405.56" width="27.4" height="42.84" fill="#404040"/>
<rect x="300.12" y="1002.2" width="27.4" height="15.62" fill="none" stroke="#141414" stroke-width="1.1"/>
<rect x="300.12" y="1017.82" width="27.4" height="11.15" fill="none" stroke="#141414" stroke-width="1.1"/>
<rect x="300.12" y="1028.97" width="27.4" height="16.06" fill="none" stroke="#141414" stroke-width="1.1"/>
<rect x="300.12" y="1045.04" width="27.4" height="157.51" fill="none" stroke="#141414" stroke-width="1.1"/>
<rect x="300.12" y="1202.54" width="27.4" height="146.35" fill="none" stroke="#141414" stroke-width="1.1"/>
<rect x="300.12" y="1348.9" width="27.4" height="3.57" fill="none" stroke="#141414" stroke-width="1.1"/>
<rect x="300.12" y="1352.47" width="27.4" height="53.1" fill="none" stroke="#141414" stroke-width="1.1"/>
<rect x="300.12" y="1405.56" width="27.4" height="42.84" fill="none" stroke="#141414" stroke-width="1.1"/>
<rect x="368.03" y="1002.2" width="27.4" height="3.12" fill="#6B3509"/>
<rect x="368.03" y="1005.32" width="27.4" height="3.12" fill="#FFFF00"/>
<rect x="368.03" y="1008.45" width="27.4" height="50.42" fill="#A5A5A5"/>
<rect x="368.03" y="1058.87" width="27.4" height="287.8" fill="#C55A11"/>
<rect x="368.03" y="1346.67" width="27.4" height="3.57" fill="#8EA9DB"/>
<rect x="368.03" y="1350.24" width="27.4" height="3.12" fill="#7030A0"/>
<rect x="368.03" y="1353.36" width="27.4" height="66.93" fill="#FFC000"/>
<rect x="368.03" y="1420.29" width="27.4" height="28.11" fill="#404040"/>
<rect x="368.03" y="1002.2" width="27.4" height="3.12" fill="none" stroke="#141414" stroke-width="1.1"/>
<rect x="368.03" y="1005.32" width="27.4" height="3.12" fill="none" stroke="#141414" stroke-width="1.1"/>
<rect x="368.03" y="1008.45" width="27.4" height="50.42" fill="none" stroke="#141414" stroke-width="1.1"/>
<rect x="368.03" y="1058.87" width="27.4" height="287.8" fill="none" stroke="#141414" stroke-width="1.1"/>
<rect x="368.03" y="1346.67" width="27.4" height="3.57" fill="none" stroke="#141414" stroke-width="1.1"/>
<rect x="368.03" y="1350.24" width="27.4" height="3.12" fill="none" stroke="#141414" stroke-width="1.1"/>
<rect x="368.03" y="1353.36" width="27.4" height="66.93" fill="none" stroke="#141414" stroke-width="1.1"/>
<rect x="368.03" y="1420.29" width="27.4" height="28.11" fill="none" stroke="#141414" stroke-width="1.1"/>
<rect x="435.94" y="1002.2" width="27.4" height="8.92" fill="#6B3509"/>
<rect x="435.94" y="1011.12" width="27.4" height="3.12" fill="#FFFF00"/>
<rect x="435.94" y="1014.25" width="27.4" height="4.91" fill="#C55A11"/>
<rect x="435.94" y="1019.16" width="27.4" height="149.92" fill="#8EA9DB"/>
<rect x="435.94" y="1169.08" width="27.4" height="279.32" fill="#FFC000"/>
<rect x="435.94" y="1002.2" width="27.4" height="8.92" fill="none" stroke="#141414" stroke-width="1.1"/>
<rect x="435.94" y="1011.12" width="27.4" height="3.12" fill="none" stroke="#141414" stroke-width="1.1"/>
<rect x="435.94" y="1014.25" width="27.4" height="4.91" fill="none" stroke="#141414" stroke-width="1.1"/>
<rect x="435.94" y="1019.16" width="27.4" height="149.92" fill="none" stroke="#141414" stroke-width="1.1"/>
<rect x="435.94" y="1169.08" width="27.4" height="279.32" fill="none" stroke="#141414" stroke-width="1.1"/>
<rect x="503.85" y="1002.2" width="27.4" height="41.94" fill="#A5A5A5"/>
<rect x="503.85" y="1044.14" width="27.4" height="89.69" fill="#C55A11"/>
<rect x="503.85" y="1133.83" width="27.4" height="38.37" fill="#8EA9DB"/>
<rect x="503.85" y="1172.2" width="27.4" height="248.53" fill="#FFC000"/>
<rect x="503.85" y="1420.74" width="27.4" height="27.66" fill="#404040"/>
<rect x="503.85" y="1002.2" width="27.4" height="41.94" fill="none" stroke="#141414" stroke-width="1.1"/>
<rect x="503.85" y="1044.14" width="27.4" height="89.69" fill="none" stroke="#141414" stroke-width="1.1"/>
<rect x="503.85" y="1133.83" width="27.4" height="38.37" fill="none" stroke="#141414" stroke-width="1.1"/>
<rect x="503.85" y="1172.2" width="27.4" height="248.53" fill="none" stroke="#141414" stroke-width="1.1"/>
<rect x="503.85" y="1420.74" width="27.4" height="27.66" fill="none" stroke="#141414" stroke-width="1.1"/>
<polyline points="178,1329.2 245.91,1269.4 313.82,1038.5 381.73,1324.8 449.64,1306 517.55,1367.1" fill="none" stroke="#000" stroke-width="5.6" stroke-linejoin="round"/>
<circle cx="178" cy="1329.2" r="5.2" fill="#000"/>
<circle cx="245.91" cy="1269.4" r="5.2" fill="#000"/>
<circle cx="313.82" cy="1038.5" r="5.2" fill="#000"/>
<circle cx="381.73" cy="1324.8" r="5.2" fill="#000"/>
<circle cx="449.64" cy="1306" r="5.2" fill="#000"/>
<circle cx="517.55" cy="1367.1" r="5.2" fill="#000"/>
<text class="ti" id="tn2" transform="translate(26.5,1225.3) rotate(-90)" text-anchor="middle">Villareal Bay</text>
<text class="ti" id="tr2" transform="translate(57,1225.3) rotate(-90)" text-anchor="middle">Relative Abunddance (%)</text>
<text class="rt" id="rt2" transform="translate(637.8,1237) rotate(-90) scale(0.97,1)" text-anchor="middle">Total Cell Density (x10<tspan font-size="14" dy="-8">3</tspan><tspan dy="8"> Cells/L)</tspan></text>
<rect x="668.7" y="1049.8" width="23" height="13" fill="#FF0000" stroke="#141414" stroke-width="1.3"/>
<text class="lg" x="695" y="1063.8" textLength="112.7" lengthAdjust="spacingAndGlyphs">Pyrodinium</text>
<rect x="668.7" y="1086.78" width="23" height="13" fill="#6B3509" stroke="#141414" stroke-width="1.3"/>
<text class="lg" x="695" y="1100.78" textLength="92.47" lengthAdjust="spacingAndGlyphs">Noctiluca</text>
<rect x="668.7" y="1123.76" width="23" height="13" fill="#FFFF00" stroke="#141414" stroke-width="1.3"/>
<text class="lg" x="695" y="1137.76" textLength="91.36" lengthAdjust="spacingAndGlyphs">Ceratium</text>
<rect x="668.7" y="1160.74" width="23" height="13" fill="#A5A5A5" stroke="#141414" stroke-width="1.3"/>
<text class="lg" x="695" y="1174.74" textLength="149.83" lengthAdjust="spacingAndGlyphs">Thalassionema</text>
<rect x="668.7" y="1197.72" width="23" height="13" fill="#00FFFF" stroke="#141414" stroke-width="1.3"/>
<text class="lg" x="695" y="1211.72" textLength="92.7" lengthAdjust="spacingAndGlyphs">Bacillaria</text>
<rect x="668.7" y="1234.7" width="23" height="13" fill="#C55A11" stroke="#141414" stroke-width="1.3"/>
<text class="lg" x="695" y="1248.7" textLength="127.95" lengthAdjust="spacingAndGlyphs">Skeletonema</text>
<rect x="668.7" y="1271.68" width="23" height="13" fill="#8EA9DB" stroke="#141414" stroke-width="1.3"/>
<text class="lg" x="695" y="1285.68" textLength="140.17" lengthAdjust="spacingAndGlyphs">Bacteriastrum</text>
<rect x="668.7" y="1308.66" width="23" height="13" fill="#7030A0" stroke="#141414" stroke-width="1.3"/>
<text class="lg" x="695" y="1322.66" textLength="91.24" lengthAdjust="spacingAndGlyphs">Detonula</text>
<rect x="668.7" y="1345.64" width="23" height="13" fill="#FFC000" stroke="#141414" stroke-width="1.3"/>
<text class="lg" x="695" y="1359.64" textLength="123.56" lengthAdjust="spacingAndGlyphs">Chaetoceros</text>
<rect x="668.7" y="1382.62" width="23" height="13" fill="#404040" stroke="#141414" stroke-width="1.3"/>
<text class="lg" x="695" y="1396.62" textLength="165.99" lengthAdjust="spacingAndGlyphs">Pseudo-nitzschia</text>
<line x1="666.5" y1="1426.1" x2="694" y2="1426.1" stroke="#000" stroke-width="4.8"/>
<circle cx="680.3" cy="1426.1" r="5" fill="#000"/>
<text class="lgn" x="695" y="1433.6" textLength="49.52" lengthAdjust="spacingAndGlyphs">Total</text>
<line x1="143.7" y1="1495.5" x2="554" y2="1495.5" stroke="#D9D9D9" stroke-width="1.2"/>
<line x1="143.7" y1="1540.1" x2="554" y2="1540.1" stroke="#D9D9D9" stroke-width="1.2"/>
<line x1="143.7" y1="1584.7" x2="554" y2="1584.7" stroke="#D9D9D9" stroke-width="1.2"/>
<line x1="143.7" y1="1629.3" x2="554" y2="1629.3" stroke="#D9D9D9" stroke-width="1.2"/>
<line x1="143.7" y1="1673.9" x2="554" y2="1673.9" stroke="#D9D9D9" stroke-width="1.2"/>
<line x1="143.7" y1="1718.5" x2="554" y2="1718.5" stroke="#D9D9D9" stroke-width="1.2"/>
<line x1="143.7" y1="1763.1" x2="554" y2="1763.1" stroke="#D9D9D9" stroke-width="1.2"/>
<line x1="143.7" y1="1807.7" x2="554" y2="1807.7" stroke="#D9D9D9" stroke-width="1.2"/>
<line x1="143.7" y1="1852.3" x2="554" y2="1852.3" stroke="#D9D9D9" stroke-width="1.2"/>
<line x1="143.7" y1="1896.9" x2="554" y2="1896.9" stroke="#D9D9D9" stroke-width="1.2"/>
<line x1="143.7" y1="1941.5" x2="554" y2="1941.5" stroke="#D9D9D9" stroke-width="1.2"/>
<text class="t" transform="translate(121,1502.65) scale(0.95,1.0)" text-anchor="end">100%</text>
<text class="t" transform="translate(121,1547.25) scale(0.95,1.0)" text-anchor="end">90%</text>
<text class="t" transform="translate(121,1591.85) scale(0.95,1.0)" text-anchor="end">80%</text>
<text class="t" transform="translate(121,1636.45) scale(0.95,1.0)" text-anchor="end">70%</text>
<text class="t" transform="translate(121,1681.05) scale(0.95,1.0)" text-anchor="end">60%</text>
<text class="t" transform="translate(121,1725.65) scale(0.95,1.0)" text-anchor="end">50%</text>
<text class="t" transform="translate(121,1770.25) scale(0.95,1.0)" text-anchor="end">40%</text>
<text class="t" transform="translate(121,1814.85) scale(0.95,1.0)" text-anchor="end">30%</text>
<text class="t" transform="translate(121,1859.45) scale(0.95,1.0)" text-anchor="end">20%</text>
<text class="t" transform="translate(121,1904.05) scale(0.95,1.0)" text-anchor="end">10%</text>
<text class="t" transform="translate(121,1948.65) scale(0.95,1.0)" text-anchor="end">0%</text>
<text class="t" transform="translate(580,1502.4) scale(1.0,1.0)">35</text>
<text class="t" transform="translate(580,1566.11) scale(1.0,1.0)">30</text>
<text class="t" transform="translate(580,1629.83) scale(1.0,1.0)">25</text>
<text class="t" transform="translate(580,1693.54) scale(1.0,1.0)">20</text>
<text class="t" transform="translate(580,1757.26) scale(1.0,1.0)">15</text>
<text class="t" transform="translate(580,1820.97) scale(1.0,1.0)">10</text>
<text class="t" transform="translate(580,1884.69) scale(1.0,1.0)">5</text>
<text class="t" transform="translate(580,1948.4) scale(1.0,1.0)">-</text>
<rect x="164.25" y="1495.5" width="27.4" height="4.91" fill="#FFFF00"/>
<rect x="164.25" y="1500.41" width="27.4" height="2.68" fill="#548235"/>
<rect x="164.25" y="1503.08" width="27.4" height="7.58" fill="#404040"/>
<rect x="164.25" y="1510.66" width="27.4" height="13.38" fill="#A5A5A5"/>
<rect x="164.25" y="1524.04" width="27.4" height="17.39" fill="#8EA9DB"/>
<rect x="164.25" y="1541.44" width="27.4" height="64.22" fill="#66FF33"/>
<rect x="164.25" y="1605.66" width="27.4" height="125.77" fill="#C55A11"/>
<rect x="164.25" y="1731.43" width="27.4" height="210.07" fill="#FFC000"/>
<rect x="164.25" y="1495.5" width="27.4" height="4.91" fill="none" stroke="#141414" stroke-width="1.1"/>
<rect x="164.25" y="1500.41" width="27.4" height="2.68" fill="none" stroke="#141414" stroke-width="1.1"/>
<rect x="164.25" y="1503.08" width="27.4" height="7.58" fill="none" stroke="#141414" stroke-width="1.1"/>
<rect x="164.25" y="1510.66" width="27.4" height="13.38" fill="none" stroke="#141414" stroke-width="1.1"/>
<rect x="164.25" y="1524.04" width="27.4" height="17.39" fill="none" stroke="#141414" stroke-width="1.1"/>
<rect x="164.25" y="1541.44" width="27.4" height="64.22" fill="none" stroke="#141414" stroke-width="1.1"/>
<rect x="164.25" y="1605.66" width="27.4" height="125.77" fill="none" stroke="#141414" stroke-width="1.1"/>
<rect x="164.25" y="1731.43" width="27.4" height="210.07" fill="none" stroke="#141414" stroke-width="1.1"/>
<rect x="232.17" y="1495.5" width="27.4" height="2.9" fill="#141414"/>
<rect x="232.17" y="1498.4" width="27.4" height="2.01" fill="#FFF2CC"/>
<rect x="232.17" y="1500.41" width="27.4" height="67.35" fill="#404040"/>
<rect x="232.17" y="1567.75" width="27.4" height="17.39" fill="#A5A5A5"/>
<rect x="232.17" y="1585.15" width="27.4" height="91.88" fill="#8EA9DB"/>
<rect x="232.17" y="1677.02" width="27.4" height="13.38" fill="#66FF33"/>
<rect x="232.17" y="1690.4" width="27.4" height="18.73" fill="#C55A11"/>
<rect x="232.17" y="1709.13" width="27.4" height="232.37" fill="#FFC000"/>
<rect x="232.17" y="1495.5" width="27.4" height="2.9" fill="none" stroke="#141414" stroke-width="1.1"/>
<rect x="232.17" y="1498.4" width="27.4" height="2.01" fill="none" stroke="#141414" stroke-width="1.1"/>
<rect x="232.17" y="1500.41" width="27.4" height="67.35" fill="none" stroke="#141414" stroke-width="1.1"/>
<rect x="232.17" y="1567.75" width="27.4" height="17.39" fill="none" stroke="#141414" stroke-width="1.1"/>
<rect x="232.17" y="1585.15" width="27.4" height="91.88" fill="none" stroke="#141414" stroke-width="1.1"/>
<rect x="232.17" y="1677.02" width="27.4" height="13.38" fill="none" stroke="#141414" stroke-width="1.1"/>
<rect x="232.17" y="1690.4" width="27.4" height="18.73" fill="none" stroke="#141414" stroke-width="1.1"/>
<rect x="232.17" y="1709.13" width="27.4" height="232.37" fill="none" stroke="#141414" stroke-width="1.1"/>
<rect x="300.09" y="1495.5" width="27.4" height="39.25" fill="#FFFF00"/>
<rect x="300.09" y="1534.75" width="27.4" height="8.47" fill="#548235"/>
<rect x="300.09" y="1543.22" width="27.4" height="81.17" fill="#FFF2CC"/>
<rect x="300.09" y="1624.39" width="27.4" height="54.86" fill="#7030A0"/>
<rect x="300.09" y="1679.25" width="27.4" height="16.5" fill="#404040"/>
<rect x="300.09" y="1695.75" width="27.4" height="200.7" fill="#A5A5A5"/>
<rect x="300.09" y="1896.45" width="27.4" height="11.37" fill="#8EA9DB"/>
<rect x="300.09" y="1907.83" width="27.4" height="2.68" fill="#66FF33"/>
<rect x="300.09" y="1910.5" width="27.4" height="6.91" fill="#C55A11"/>
<rect x="300.09" y="1917.42" width="27.4" height="24.08" fill="#FFC000"/>
<rect x="300.09" y="1495.5" width="27.4" height="39.25" fill="none" stroke="#141414" stroke-width="1.1"/>
<rect x="300.09" y="1534.75" width="27.4" height="8.47" fill="none" stroke="#141414" stroke-width="1.1"/>
<rect x="300.09" y="1543.22" width="27.4" height="81.17" fill="none" stroke="#141414" stroke-width="1.1"/>
<rect x="300.09" y="1624.39" width="27.4" height="54.86" fill="none" stroke="#141414" stroke-width="1.1"/>
<rect x="300.09" y="1679.25" width="27.4" height="16.5" fill="none" stroke="#141414" stroke-width="1.1"/>
<rect x="300.09" y="1695.75" width="27.4" height="200.7" fill="none" stroke="#141414" stroke-width="1.1"/>
<rect x="300.09" y="1896.45" width="27.4" height="11.37" fill="none" stroke="#141414" stroke-width="1.1"/>
<rect x="300.09" y="1907.83" width="27.4" height="2.68" fill="none" stroke="#141414" stroke-width="1.1"/>
<rect x="300.09" y="1910.5" width="27.4" height="6.91" fill="none" stroke="#141414" stroke-width="1.1"/>
<rect x="300.09" y="1917.42" width="27.4" height="24.08" fill="none" stroke="#141414" stroke-width="1.1"/>
<rect x="368.01" y="1495.5" width="27.4" height="12.04" fill="#FFFF00"/>
<rect x="368.01" y="1507.54" width="27.4" height="75.82" fill="#404040"/>
<rect x="368.01" y="1583.36" width="27.4" height="41.92" fill="#A5A5A5"/>
<rect x="368.01" y="1625.29" width="27.4" height="49.51" fill="#66FF33"/>
<rect x="368.01" y="1674.79" width="27.4" height="266.71" fill="#C55A11"/>
<rect x="368.01" y="1495.5" width="27.4" height="12.04" fill="none" stroke="#141414" stroke-width="1.1"/>
<rect x="368.01" y="1507.54" width="27.4" height="75.82" fill="none" stroke="#141414" stroke-width="1.1"/>
<rect x="368.01" y="1583.36" width="27.4" height="41.92" fill="none" stroke="#141414" stroke-width="1.1"/>
<rect x="368.01" y="1625.29" width="27.4" height="49.51" fill="none" stroke="#141414" stroke-width="1.1"/>
<rect x="368.01" y="1674.79" width="27.4" height="266.71" fill="none" stroke="#141414" stroke-width="1.1"/>
<rect x="435.93" y="1495.5" width="27.4" height="8.92" fill="#00FFFF"/>
<rect x="435.93" y="1504.42" width="27.4" height="12.04" fill="#FF00FF"/>
<rect x="435.93" y="1516.46" width="27.4" height="29.88" fill="#A5A5A5"/>
<rect x="435.93" y="1546.34" width="27.4" height="87.42" fill="#66FF33"/>
<rect x="435.93" y="1633.76" width="27.4" height="307.74" fill="#C55A11"/>
<rect x="435.93" y="1495.5" width="27.4" height="8.92" fill="none" stroke="#141414" stroke-width="1.1"/>
<rect x="435.93" y="1504.42" width="27.4" height="12.04" fill="none" stroke="#141414" stroke-width="1.1"/>
<rect x="435.93" y="1516.46" width="27.4" height="29.88" fill="none" stroke="#141414" stroke-width="1.1"/>
<rect x="435.93" y="1546.34" width="27.4" height="87.42" fill="none" stroke="#141414" stroke-width="1.1"/>
<rect x="435.93" y="1633.76" width="27.4" height="307.74" fill="none" stroke="#141414" stroke-width="1.1"/>
<rect x="503.85" y="1495.5" width="27.4" height="10.26" fill="#FFFF00"/>
<rect x="503.85" y="1505.76" width="27.4" height="16.5" fill="#548235"/>
<rect x="503.85" y="1522.26" width="27.4" height="5.35" fill="#141414"/>
<rect x="503.85" y="1527.61" width="27.4" height="4.46" fill="#404040"/>
<rect x="503.85" y="1532.07" width="27.4" height="56.2" fill="#A5A5A5"/>
<rect x="503.85" y="1588.27" width="27.4" height="15.16" fill="#8EA9DB"/>
<rect x="503.85" y="1603.43" width="27.4" height="2.23" fill="#404040"/>
<rect x="503.85" y="1605.66" width="27.4" height="313.98" fill="#C55A11"/>
<rect x="503.85" y="1919.65" width="27.4" height="21.85" fill="#FFC000"/>
<rect x="503.85" y="1495.5" width="27.4" height="10.26" fill="none" stroke="#141414" stroke-width="1.1"/>
<rect x="503.85" y="1505.76" width="27.4" height="16.5" fill="none" stroke="#141414" stroke-width="1.1"/>
<rect x="503.85" y="1522.26" width="27.4" height="5.35" fill="none" stroke="#141414" stroke-width="1.1"/>
<rect x="503.85" y="1527.61" width="27.4" height="4.46" fill="none" stroke="#141414" stroke-width="1.1"/>
<rect x="503.85" y="1532.07" width="27.4" height="56.2" fill="none" stroke="#141414" stroke-width="1.1"/>
<rect x="503.85" y="1588.27" width="27.4" height="15.16" fill="none" stroke="#141414" stroke-width="1.1"/>
<rect x="503.85" y="1603.43" width="27.4" height="2.23" fill="none" stroke="#141414" stroke-width="1.1"/>
<rect x="503.85" y="1605.66" width="27.4" height="313.98" fill="none" stroke="#141414" stroke-width="1.1"/>
<rect x="503.85" y="1919.65" width="27.4" height="21.85" fill="none" stroke="#141414" stroke-width="1.1"/>
<polyline points="177.95,1542.2 245.87,1675.6 313.79,1703.5 381.71,1731 449.63,1764.9 517.55,1707.7" fill="none" stroke="#000" stroke-width="5.6" stroke-linejoin="round"/>
<circle cx="177.95" cy="1542.2" r="5.2" fill="#000"/>
<circle cx="245.87" cy="1675.6" r="5.2" fill="#000"/>
<circle cx="313.79" cy="1703.5" r="5.2" fill="#000"/>
<circle cx="381.71" cy="1731" r="5.2" fill="#000"/>
<circle cx="449.63" cy="1764.9" r="5.2" fill="#000"/>
<circle cx="517.55" cy="1707.7" r="5.2" fill="#000"/>
<text class="ti" id="tn3" transform="translate(26.5,1718.5) rotate(-90)" text-anchor="middle" textLength="121.8" lengthAdjust="spacingAndGlyphs">Carigara Bay</text>
<text class="ti" id="tr3" transform="translate(57,1718.5) rotate(-90)" text-anchor="middle">Relative Abunddance (%)</text>
<text class="rt" id="rt3" transform="translate(639.4,1725) rotate(-90) scale(0.97,1)" text-anchor="middle">Total Cell Density (x10<tspan font-size="14" dy="-8">3</tspan><tspan dy="8"> Cells/L)</tspan></text>
<rect x="669.9" y="1511.7" width="23" height="13" fill="#FFFF00" stroke="#141414" stroke-width="1.3"/>
<text class="lg" x="696.2" y="1525.7" textLength="91.36" lengthAdjust="spacingAndGlyphs">Ceratium</text>
<rect x="669.9" y="1547.01" width="23" height="13" fill="#548235" stroke="#141414" stroke-width="1.3"/>
<text class="lg" x="696.2" y="1561.01" textLength="138.92" lengthAdjust="spacingAndGlyphs">Prorocentrum</text>
<rect x="669.9" y="1582.32" width="23" height="13" fill="#FFF2CC" stroke="#141414" stroke-width="1.3"/>
<text class="lg" x="696.2" y="1596.32" textLength="98.68" lengthAdjust="spacingAndGlyphs">Cocconeis</text>
<rect x="669.9" y="1617.63" width="23" height="13" fill="#00FFFF" stroke="#141414" stroke-width="1.3"/>
<text class="lg" x="696.2" y="1631.63" textLength="90.64" lengthAdjust="spacingAndGlyphs">Nitzschia</text>
<rect x="669.9" y="1652.94" width="23" height="13" fill="#FF00FF" stroke="#141414" stroke-width="1.3"/>
<text class="lg" x="696.2" y="1666.94" textLength="91.17" lengthAdjust="spacingAndGlyphs">Diploneis</text>
<rect x="669.9" y="1688.25" width="23" height="13" fill="#7030A0" stroke="#141414" stroke-width="1.3"/>
<text class="lg" x="696.2" y="1702.25" textLength="123.84" lengthAdjust="spacingAndGlyphs">Pleurosigma</text>
<rect x="669.9" y="1723.56" width="23" height="13" fill="#404040" stroke="#141414" stroke-width="1.3"/>
<text class="lg" x="696.2" y="1737.56" textLength="165.99" lengthAdjust="spacingAndGlyphs">Pseudo-nitzschia</text>
<rect x="669.9" y="1758.87" width="23" height="13" fill="#A5A5A5" stroke="#141414" stroke-width="1.3"/>
<text class="lg" x="696.2" y="1772.87" textLength="149.83" lengthAdjust="spacingAndGlyphs">Thalassionema</text>
<rect x="669.9" y="1794.18" width="23" height="13" fill="#8EA9DB" stroke="#141414" stroke-width="1.3"/>
<text class="lg" x="696.2" y="1808.18" textLength="140.17" lengthAdjust="spacingAndGlyphs">Bacteriastrum</text>
<rect x="669.9" y="1829.49" width="23" height="13" fill="#66FF33" stroke="#141414" stroke-width="1.3"/>
<text class="lg" x="696.2" y="1843.49" textLength="137.4" lengthAdjust="spacingAndGlyphs">Cylindrotheca</text>
<rect x="669.9" y="1864.8" width="23" height="13" fill="#C55A11" stroke="#141414" stroke-width="1.3"/>
<text class="lg" x="696.2" y="1878.8" textLength="127.95" lengthAdjust="spacingAndGlyphs">Skeletonema</text>
<rect x="669.9" y="1900.11" width="23" height="13" fill="#FFC000" stroke="#141414" stroke-width="1.3"/>
<text class="lg" x="696.2" y="1914.11" textLength="123.56" lengthAdjust="spacingAndGlyphs">Chaetoceros</text>
<line x1="667.7" y1="1941.92" x2="695.2" y2="1941.92" stroke="#000" stroke-width="4.8"/>
<circle cx="681.5" cy="1941.92" r="5" fill="#000"/>
<text class="lg" x="696.2" y="1949.42" textLength="52.05" lengthAdjust="spacingAndGlyphs">Total</text>
<line x1="143.7" y1="2000.2" x2="554" y2="2000.2" stroke="#D9D9D9" stroke-width="1.2"/>
<line x1="143.7" y1="2044.78" x2="554" y2="2044.78" stroke="#D9D9D9" stroke-width="1.2"/>
<line x1="143.7" y1="2089.36" x2="554" y2="2089.36" stroke="#D9D9D9" stroke-width="1.2"/>
<line x1="143.7" y1="2133.94" x2="554" y2="2133.94" stroke="#D9D9D9" stroke-width="1.2"/>
<line x1="143.7" y1="2178.52" x2="554" y2="2178.52" stroke="#D9D9D9" stroke-width="1.2"/>
<line x1="143.7" y1="2223.1" x2="554" y2="2223.1" stroke="#D9D9D9" stroke-width="1.2"/>
<line x1="143.7" y1="2267.68" x2="554" y2="2267.68" stroke="#D9D9D9" stroke-width="1.2"/>
<line x1="143.7" y1="2312.26" x2="554" y2="2312.26" stroke="#D9D9D9" stroke-width="1.2"/>
<line x1="143.7" y1="2356.84" x2="554" y2="2356.84" stroke="#D9D9D9" stroke-width="1.2"/>
<line x1="143.7" y1="2401.42" x2="554" y2="2401.42" stroke="#D9D9D9" stroke-width="1.2"/>
<line x1="143.7" y1="2446" x2="554" y2="2446" stroke="#D9D9D9" stroke-width="1.2"/>
<text class="t" transform="translate(121,2007.35) scale(0.95,1.0)" text-anchor="end">100%</text>
<text class="t" transform="translate(121,2051.93) scale(0.95,1.0)" text-anchor="end">90%</text>
<text class="t" transform="translate(121,2096.51) scale(0.95,1.0)" text-anchor="end">80%</text>
<text class="t" transform="translate(121,2141.09) scale(0.95,1.0)" text-anchor="end">70%</text>
<text class="t" transform="translate(121,2185.67) scale(0.95,1.0)" text-anchor="end">60%</text>
<text class="t" transform="translate(121,2230.25) scale(0.95,1.0)" text-anchor="end">50%</text>
<text class="t" transform="translate(121,2274.83) scale(0.95,1.0)" text-anchor="end">40%</text>
<text class="t" transform="translate(121,2319.41) scale(0.95,1.0)" text-anchor="end">30%</text>
<text class="t" transform="translate(121,2363.99) scale(0.95,1.0)" text-anchor="end">20%</text>
<text class="t" transform="translate(121,2408.57) scale(0.95,1.0)" text-anchor="end">10%</text>
<text class="t" transform="translate(121,2453.15) scale(0.95,1.0)" text-anchor="end">0%</text>
<text class="t" transform="translate(575.8,2007.1) scale(1.0,1.0)">30</text>
<text class="t" transform="translate(575.8,2081.4) scale(1.0,1.0)">25</text>
<text class="t" transform="translate(575.8,2155.7) scale(1.0,1.0)">20</text>
<text class="t" transform="translate(575.8,2230) scale(1.0,1.0)">15</text>
<text class="t" transform="translate(575.8,2304.3) scale(1.0,1.0)">10</text>
<text class="t" transform="translate(575.8,2378.6) scale(1.0,1.0)">5</text>
<text class="t" transform="translate(575.8,2452.9) scale(1.0,1.0)">0</text>
<rect x="164.65" y="2000.2" width="27.4" height="10.7" fill="#70AD47"/>
<rect x="164.65" y="2010.9" width="27.4" height="18.28" fill="#404040"/>
<rect x="164.65" y="2029.18" width="27.4" height="39.23" fill="#A5A5A5"/>
<rect x="164.65" y="2068.41" width="27.4" height="123.49" fill="#66FF33"/>
<rect x="164.65" y="2191.89" width="27.4" height="254.11" fill="#C55A11"/>
<rect x="164.65" y="2000.2" width="27.4" height="10.7" fill="none" stroke="#141414" stroke-width="1.1"/>
<rect x="164.65" y="2010.9" width="27.4" height="18.28" fill="none" stroke="#141414" stroke-width="1.1"/>
<rect x="164.65" y="2029.18" width="27.4" height="39.23" fill="none" stroke="#141414" stroke-width="1.1"/>
<rect x="164.65" y="2068.41" width="27.4" height="123.49" fill="none" stroke="#141414" stroke-width="1.1"/>
<rect x="164.65" y="2191.89" width="27.4" height="254.11" fill="none" stroke="#141414" stroke-width="1.1"/>
<rect x="232.72" y="2000.2" width="27.4" height="31.21" fill="#FFC000"/>
<rect x="232.72" y="2031.41" width="27.4" height="313.84" fill="#8EA9DB"/>
<rect x="232.72" y="2345.25" width="27.4" height="38.34" fill="#404040"/>
<rect x="232.72" y="2383.59" width="27.4" height="21.4" fill="#A5A5A5"/>
<rect x="232.72" y="2404.99" width="27.4" height="41.01" fill="#C55A11"/>
<rect x="232.72" y="2000.2" width="27.4" height="31.21" fill="none" stroke="#141414" stroke-width="1.1"/>
<rect x="232.72" y="2031.41" width="27.4" height="313.84" fill="none" stroke="#141414" stroke-width="1.1"/>
<rect x="232.72" y="2345.25" width="27.4" height="38.34" fill="none" stroke="#141414" stroke-width="1.1"/>
<rect x="232.72" y="2383.59" width="27.4" height="21.4" fill="none" stroke="#141414" stroke-width="1.1"/>
<rect x="232.72" y="2404.99" width="27.4" height="41.01" fill="none" stroke="#141414" stroke-width="1.1"/>
<rect x="300.79" y="2000.2" width="27.4" height="15.16" fill="#70AD47"/>
<rect x="300.79" y="2015.36" width="27.4" height="16.05" fill="#404040"/>
<rect x="300.79" y="2031.41" width="27.4" height="37.89" fill="#A5A5A5"/>
<rect x="300.79" y="2069.3" width="27.4" height="108.33" fill="#66FF33"/>
<rect x="300.79" y="2177.63" width="27.4" height="268.37" fill="#C55A11"/>
<rect x="300.79" y="2000.2" width="27.4" height="15.16" fill="none" stroke="#141414" stroke-width="1.1"/>
<rect x="300.79" y="2015.36" width="27.4" height="16.05" fill="none" stroke="#141414" stroke-width="1.1"/>
<rect x="300.79" y="2031.41" width="27.4" height="37.89" fill="none" stroke="#141414" stroke-width="1.1"/>
<rect x="300.79" y="2069.3" width="27.4" height="108.33" fill="none" stroke="#141414" stroke-width="1.1"/>
<rect x="300.79" y="2177.63" width="27.4" height="268.37" fill="none" stroke="#141414" stroke-width="1.1"/>
<rect x="368.86" y="2000.2" width="27.4" height="11.59" fill="#FFC000"/>
<rect x="368.86" y="2011.79" width="27.4" height="29.87" fill="#404040"/>
<rect x="368.86" y="2041.66" width="27.4" height="20.51" fill="#A5A5A5"/>
<rect x="368.86" y="2062.17" width="27.4" height="23.18" fill="#66FF33"/>
<rect x="368.86" y="2085.35" width="27.4" height="360.65" fill="#C55A11"/>
<rect x="368.86" y="2000.2" width="27.4" height="11.59" fill="none" stroke="#141414" stroke-width="1.1"/>
<rect x="368.86" y="2011.79" width="27.4" height="29.87" fill="none" stroke="#141414" stroke-width="1.1"/>
<rect x="368.86" y="2041.66" width="27.4" height="20.51" fill="none" stroke="#141414" stroke-width="1.1"/>
<rect x="368.86" y="2062.17" width="27.4" height="23.18" fill="none" stroke="#141414" stroke-width="1.1"/>
<rect x="368.86" y="2085.35" width="27.4" height="360.65" fill="none" stroke="#141414" stroke-width="1.1"/>
<rect x="436.93" y="2000.2" width="27.4" height="12.48" fill="#FFC000"/>
<rect x="436.93" y="2012.68" width="27.4" height="60.63" fill="#404040"/>
<rect x="436.93" y="2073.31" width="27.4" height="32.99" fill="#A5A5A5"/>
<rect x="436.93" y="2106.3" width="27.4" height="106.1" fill="#66FF33"/>
<rect x="436.93" y="2212.4" width="27.4" height="233.6" fill="#C55A11"/>
<rect x="436.93" y="2000.2" width="27.4" height="12.48" fill="none" stroke="#141414" stroke-width="1.1"/>
<rect x="436.93" y="2012.68" width="27.4" height="60.63" fill="none" stroke="#141414" stroke-width="1.1"/>
<rect x="436.93" y="2073.31" width="27.4" height="32.99" fill="none" stroke="#141414" stroke-width="1.1"/>
<rect x="436.93" y="2106.3" width="27.4" height="106.1" fill="none" stroke="#141414" stroke-width="1.1"/>
<rect x="436.93" y="2212.4" width="27.4" height="233.6" fill="none" stroke="#141414" stroke-width="1.1"/>
<rect x="505" y="2000.2" width="27.4" height="33.88" fill="#FFC000"/>
<rect x="505" y="2034.08" width="27.4" height="10.7" fill="#8EA9DB"/>
<rect x="505" y="2044.78" width="27.4" height="103.87" fill="#A5A5A5"/>
<rect x="505" y="2148.65" width="27.4" height="297.35" fill="#C55A11"/>
<rect x="505" y="2000.2" width="27.4" height="33.88" fill="none" stroke="#141414" stroke-width="1.1"/>
<rect x="505" y="2034.08" width="27.4" height="10.7" fill="none" stroke="#141414" stroke-width="1.1"/>
<rect x="505" y="2044.78" width="27.4" height="103.87" fill="none" stroke="#141414" stroke-width="1.1"/>
<rect x="505" y="2148.65" width="27.4" height="297.35" fill="none" stroke="#141414" stroke-width="1.1"/>
<polyline points="178.35,2196.2 246.42,2142.2 314.49,2174.8 382.56,2060.3 450.63,2198.6 518.7,2160.8" fill="none" stroke="#000" stroke-width="5.6" stroke-linejoin="round"/>
<circle cx="178.35" cy="2196.2" r="5.2" fill="#000"/>
<circle cx="246.42" cy="2142.2" r="5.2" fill="#000"/>
<circle cx="314.49" cy="2174.8" r="5.2" fill="#000"/>
<circle cx="382.56" cy="2060.3" r="5.2" fill="#000"/>
<circle cx="450.63" cy="2198.6" r="5.2" fill="#000"/>
<circle cx="518.7" cy="2160.8" r="5.2" fill="#000"/>
<text class="ti" id="tn4" transform="translate(26.5,2223.1) rotate(-90)" text-anchor="middle">Biliran Waters</text>
<text class="ti" id="tr4" transform="translate(57,2223.1) rotate(-90)" text-anchor="middle">Relative Abunddance (%)</text>
<text class="rt" id="rt4" transform="translate(635.8,2228.3) rotate(-90) scale(0.97,1)" text-anchor="middle">Total Cell Density (x10<tspan font-size="14" dy="-8">3</tspan><tspan dy="8"> Cells/L)</tspan></text>
<rect x="668.7" y="2103.4" width="23" height="13" fill="#FFC000" stroke="#141414" stroke-width="1.3"/>
<text class="lg" x="695" y="2117.4" textLength="123.56" lengthAdjust="spacingAndGlyphs">Chaetoceros</text>
<rect x="668.7" y="2140.42" width="23" height="13" fill="#8EA9DB" stroke="#141414" stroke-width="1.3"/>
<text class="lg" x="695" y="2154.42" textLength="140.17" lengthAdjust="spacingAndGlyphs">Bacteriastrum</text>
<rect x="668.7" y="2177.44" width="23" height="13" fill="#70AD47" stroke="#141414" stroke-width="1.3"/>
<text class="lg" x="695" y="2191.44" textLength="123.82" lengthAdjust="spacingAndGlyphs">Rhizosolenia</text>
<rect x="668.7" y="2214.46" width="23" height="13" fill="#404040" stroke="#141414" stroke-width="1.3"/>
<text class="lg" x="695" y="2228.46" textLength="165.99" lengthAdjust="spacingAndGlyphs">Pseudo-nitzschia</text>
<rect x="668.7" y="2251.48" width="23" height="13" fill="#A5A5A5" stroke="#141414" stroke-width="1.3"/>
<text class="lg" x="695" y="2265.48" textLength="149.83" lengthAdjust="spacingAndGlyphs">Thalassionema</text>
<rect x="668.7" y="2288.5" width="23" height="13" fill="#66FF33" stroke="#141414" stroke-width="1.3"/>
<text class="lg" x="695" y="2302.5" textLength="137.4" lengthAdjust="spacingAndGlyphs">Cylindrotheca</text>
<rect x="668.7" y="2325.52" width="23" height="13" fill="#C55A11" stroke="#141414" stroke-width="1.3"/>
<text class="lg" x="695" y="2339.52" textLength="127.95" lengthAdjust="spacingAndGlyphs">Skeletonema</text>
<line x1="666.5" y1="2369.04" x2="694" y2="2369.04" stroke="#000" stroke-width="4.8"/>
<circle cx="680.3" cy="2369.04" r="5" fill="#000"/>
<text class="lgn" x="695" y="2376.54" textLength="49.52" lengthAdjust="spacingAndGlyphs">Total</text>
<text class="xl" transform="translate(178.35,2485.6) scale(1,1.0)" text-anchor="middle">Aug</text>
<text class="xl" transform="translate(246.42,2485.6) scale(1,1.0)" text-anchor="middle">Sep</text>
<text class="xl" transform="translate(314.49,2485.6) scale(1,1.0)" text-anchor="middle">Oct</text>
<text class="xl" transform="translate(382.56,2485.6) scale(1,1.0)" text-anchor="middle">Nov</text>
<text class="xl" transform="translate(450.63,2485.6) scale(1,1.0)" text-anchor="middle">Dec</text>
<text class="xl" transform="translate(518.7,2485.6) scale(1,1.0)" text-anchor="middle">Jan</text>
</svg></body></html>
